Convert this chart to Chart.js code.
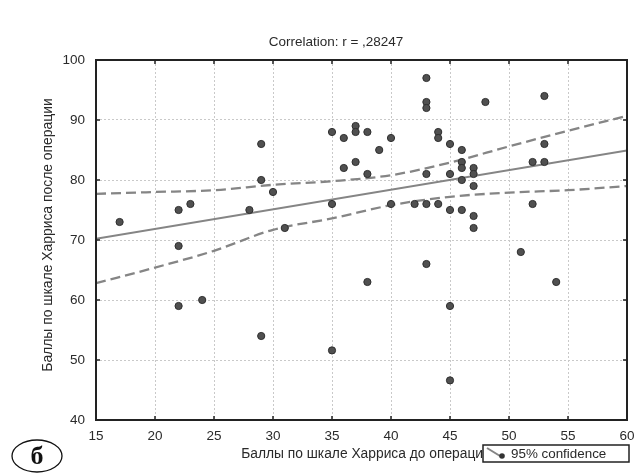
<!DOCTYPE html>
<html>
<head>
<meta charset="utf-8">
<script src="https://cdn.jsdelivr.net/npm/chart.js@4.4.0/dist/chart.umd.min.js"></script>
<style>
  html, body { margin: 0; padding: 0; background: #fff; }
  canvas { display: block; }
</style>
</head>
<body>
<canvas id="myChart" width="634" height="473"></canvas>
<script>
// Баллы по шкале Харриса: до операции (x) и после операции (y)
const xValues = [17, 22, 23, 22, 22, 24, 28, 29, 29, 29, 30, 31,
                 35, 35, 35, 36, 36, 37, 37, 37, 38, 38, 38, 39, 40, 40,
                 42, 43, 43, 43, 43, 43, 43, 44, 44, 44,
                 45, 45, 45, 45, 45, 46, 46, 46, 46, 46,
                 47, 47, 47, 47, 47, 48, 51, 52, 52, 53, 53, 53, 54];
const yValues = [73, 75, 76, 69, 59, 60, 75, 86, 80, 54, 78, 72,
                 88, 76, 51.6, 87, 82, 89, 88, 83, 88, 81, 63, 85, 87, 76,
                 76, 97, 93, 92, 81, 76, 66, 88, 87, 76,
                 86, 81, 75, 59, 46.6, 85, 83, 82, 80, 75,
                 82, 81, 79, 74, 72, 93, 68, 83, 76, 94, 86, 83, 63];

// Линия регрессии (концы)
const fitX = [15, 60];
const fitY = [70.2, 84.9];

// 95% доверительный интервал
const bandX = [15, 20, 25, 30, 35, 40, 45, 50, 55, 60];
const bandUpper = [77.7, 78.0, 78.3, 79.2, 79.8, 80.8, 82.9, 85.6, 88.2, 90.7];
const bandLower = [62.8, 65.4, 68.2, 71.7, 73.6, 75.8, 77.2, 77.9, 78.3, 79.0];

// Оси
const xMin = 15, xMax = 60, xStep = 5;
const yMin = 40, yMax = 100, yStep = 10;

// Тексты
const titleText = 'Correlation: r = ,28247';
const xTitle = 'Баллы по шкале Харриса до операции';
const yTitle = 'Баллы по шкале Харриса после операции';
const legendText = '95% confidence';
const panelLabel = 'б';

const FONT = '"Liberation Sans", Arial, sans-serif';
const TEXT_COLOR = '#2a2a2a';
const LINE_COLOR = '#858585';

const toPoints = (xs, ys) => xs.map((x, i) => ({ x, y: ys[i] }));

// Рамка, внутренние засечки, подписи, легенда
const decor = {
    id: 'decor',
    afterDraw(chart) {
        const { ctx, chartArea: a, scales } = chart;
        ctx.save();

        // засечки внутрь
        ctx.strokeStyle = '#222';
        ctx.lineWidth = 1.5;
        ctx.beginPath();
        scales.x.ticks.forEach(t => {
            const px = scales.x.getPixelForValue(t.value);
            ctx.moveTo(px, a.bottom); ctx.lineTo(px, a.bottom - 4);
            ctx.moveTo(px, a.top); ctx.lineTo(px, a.top + 4);
        });
        scales.y.ticks.forEach(t => {
            const py = scales.y.getPixelForValue(t.value);
            ctx.moveTo(a.left, py); ctx.lineTo(a.left + 4, py);
            ctx.moveTo(a.right, py); ctx.lineTo(a.right - 4, py);
        });
        ctx.stroke();

        // рамка
        ctx.lineWidth = 2;
        ctx.strokeRect(a.left, a.top, a.right - a.left, a.bottom - a.top);

        // заголовок
        ctx.fillStyle = TEXT_COLOR;
        ctx.font = '13.5px ' + FONT;
        ctx.textAlign = 'center';
        ctx.textBaseline = 'middle';
        ctx.fillText(titleText, 336, 42);

        // подпись оси X (конец закрыт легендой, как в оригинале)
        ctx.font = '13.8px ' + FONT;
        ctx.fillText(xTitle, 366, 454);

        // подпись оси Y
        ctx.save();
        ctx.font = '13.9px ' + FONT;
        ctx.translate(48, 235);
        ctx.rotate(-Math.PI / 2);
        ctx.fillText(yTitle, 0, 0);
        ctx.restore();

        // легенда
        ctx.fillStyle = '#fff';
        ctx.fillRect(483, 445, 146, 17);
        ctx.strokeStyle = '#222';
        ctx.lineWidth = 1.5;
        ctx.strokeRect(483, 445, 146, 17);
        ctx.strokeStyle = LINE_COLOR;
        ctx.lineWidth = 2;
        ctx.beginPath();
        ctx.moveTo(487, 448); ctx.lineTo(500, 456);
        ctx.stroke();
        ctx.fillStyle = '#333';
        ctx.beginPath();
        ctx.arc(502, 456, 2.8, 0, Math.PI * 2);
        ctx.fill();
        ctx.fillStyle = TEXT_COLOR;
        ctx.font = '13.4px ' + FONT;
        ctx.textAlign = 'left';
        ctx.fillText(legendText, 511, 454);

        // буква панели
        ctx.strokeStyle = '#111';
        ctx.lineWidth = 1.3;
        ctx.beginPath();
        ctx.ellipse(37, 456, 25, 16, 0, 0, Math.PI * 2);
        ctx.stroke();
        ctx.fillStyle = '#111';
        ctx.font = 'bold 26px "Liberation Serif", "DejaVu Serif", serif';
        ctx.textAlign = 'center';
        ctx.fillText(panelLabel, 37, 457);

        ctx.restore();
    }
};

const ctx = document.getElementById('myChart');

const myChart = new Chart(ctx, {
    type: 'scatter',
    data: {
        datasets: [
            {
                label: 'data',
                data: toPoints(xValues, yValues),
                pointRadius: 3.6,
                pointHoverRadius: 3.6,
                pointBackgroundColor: '#505050',
                pointBorderColor: '#2e2e2e',
                pointBorderWidth: 1
            },
            {
                label: 'fit',
                data: toPoints(fitX, fitY),
                showLine: true,
                pointRadius: 0,
                borderColor: LINE_COLOR,
                borderWidth: 2
            },
            {
                label: 'upper',
                data: toPoints(bandX, bandUpper),
                showLine: true,
                cubicInterpolationMode: 'monotone',
                pointRadius: 0,
                borderColor: LINE_COLOR,
                borderWidth: 2.3,
                borderDash: [10, 5]
            },
            {
                label: 'lower',
                data: toPoints(bandX, bandLower),
                showLine: true,
                cubicInterpolationMode: 'monotone',
                pointRadius: 0,
                borderColor: LINE_COLOR,
                borderWidth: 2.3,
                borderDash: [10, 5]
            }
        ]
    },
    options: {
        responsive: false,
        animation: false,
        devicePixelRatio: 1,
        layout: { padding: { left: 0, right: 7, top: 60, bottom: 0 } },
        plugins: {
            legend: { display: false },
            title: { display: false },
            tooltip: { enabled: false }
        },
        scales: {
            x: {
                type: 'linear',
                min: xMin,
                max: xMax,
                ticks: {
                    stepSize: xStep,
                    color: TEXT_COLOR,
                    font: { family: FONT, size: 13.5 },
                    padding: 8
                },
                grid: { color: '#c9c9c9', drawTicks: false },
                border: { display: false, dash: [2, 2] },
                afterFit: s => {
                    s.height = 53;
                    s.paddingLeft = 0;
                    s.paddingRight = 0;
                }
            },
            y: {
                min: yMin,
                max: yMax,
                ticks: {
                    stepSize: yStep,
                    color: TEXT_COLOR,
                    font: { family: FONT, size: 13.5 },
                    padding: 11
                },
                grid: { color: '#c9c9c9', drawTicks: false },
                border: { display: false, dash: [2, 2] },
                afterFit: s => {
                    s.width = 96;
                    s.paddingTop = 0;
                    s.paddingBottom = 0;
                }
            }
        }
    },
    plugins: [decor]
});
</script>
</body>
</html>
